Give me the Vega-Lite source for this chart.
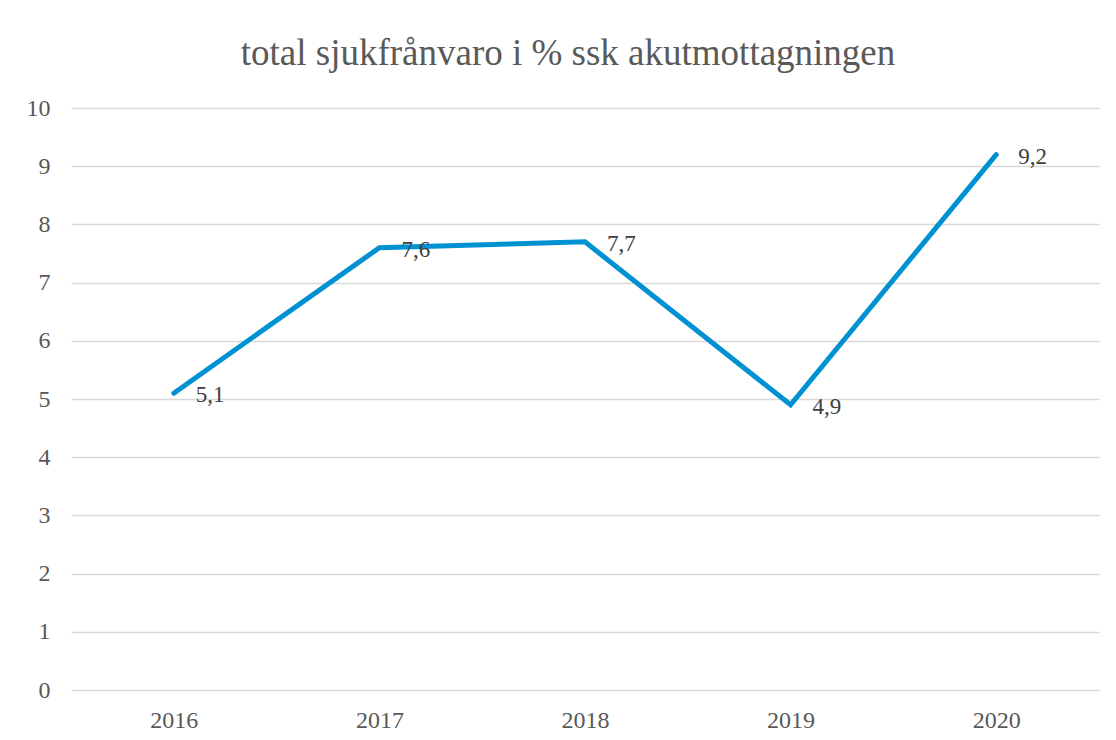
{
  "$schema": "https://vega.github.io/schema/vega-lite/v6.json",
  "width": 1028,
  "height": 582,
  "autosize": {"type": "none"},
  "padding": {"left": 71, "top": 108, "right": 17, "bottom": 50},
  "background": "white",
  "title": {
    "text": "total sjukfrånvaro i % ssk akutmottagningen",
    "font": "Liberation Serif",
    "fontSize": 37,
    "fontWeight": "normal",
    "color": "#595959",
    "anchor": "middle",
    "dx": -17,
    "offset": 23
  },
  "data": {
    "values": [
      {"year": "2016", "value": 5.1, "label": "5,1"},
      {"year": "2017", "value": 7.6, "label": "7,6"},
      {"year": "2018", "value": 7.7, "label": "7,7"},
      {"year": "2019", "value": 4.9, "label": "4,9"},
      {"year": "2020", "value": 9.2, "label": "9,2"}
    ]
  },
  "config": {
    "view": {"stroke": null},
    "axis": {
      "labelFont": "Liberation Serif",
      "labelFontSize": 24,
      "labelColor": "#595959",
      "ticks": false,
      "domain": false,
      "title": null
    }
  },
  "encoding": {
    "x": {
      "field": "year",
      "type": "ordinal",
      "scale": {"type": "point", "padding": 0.5},
      "axis": {"labelAngle": 0, "labelPadding": 18, "grid": false}
    },
    "y": {
      "field": "value",
      "type": "quantitative",
      "scale": {"domain": [0, 10], "nice": false},
      "axis": {
        "values": [0, 1, 2, 3, 4, 5, 6, 7, 8, 9, 10],
        "grid": true,
        "gridColor": "#d9d9d9",
        "gridWidth": 1.5,
        "labelPadding": 21
      }
    }
  },
  "layer": [
    {
      "mark": {"type": "line", "color": "#0091d2", "strokeWidth": 5, "strokeCap": "round", "strokeJoin": "miter"}
    },
    {
      "mark": {"type": "text", "align": "left", "baseline": "middle", "dx": 22, "dy": 2, "font": "Liberation Serif", "fontSize": 23, "color": "#404040"},
      "encoding": {"text": {"field": "label"}}
    }
  ]
}
